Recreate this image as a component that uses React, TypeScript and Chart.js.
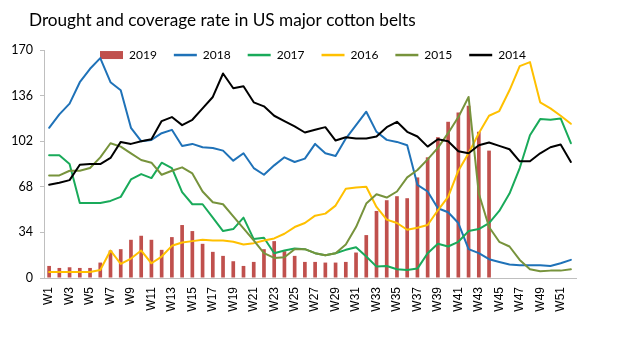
import { useEffect, useRef } from 'react';
import { Chart, registerables } from 'chart.js';

Chart.register(...registerables);

const TITLE = 'Drought and coverage rate in US major cotton belts';

const weeks = [
  'W1', 'W2', 'W3', 'W4', 'W5', 'W6', 'W7', 'W8', 'W9', 'W10',
  'W11', 'W12', 'W13', 'W14', 'W15', 'W16', 'W17', 'W18', 'W19', 'W20',
  'W21', 'W22', 'W23', 'W24', 'W25', 'W26', 'W27', 'W28', 'W29', 'W30',
  'W31', 'W32', 'W33', 'W34', 'W35', 'W36', 'W37', 'W38', 'W39', 'W40',
  'W41', 'W42', 'W43', 'W44', 'W45', 'W46', 'W47', 'W48', 'W49', 'W50',
  'W51', 'W52',
];

const Y_MIN = 0;
const Y_MAX = 170;
const Y_STEP = 34;

const s2019 = [
  9, 7.5, 8, 7.5, 7.5, 11.5, 20.5, 21.5, 28.5, 31.5,
  28.5, 21, 30.5, 39.5, 35, 25.5, 19.5, 16.5, 12.5, 9,
  12, 21.5, 27.5, 20, 16.5, 12, 12, 11.5, 11.5, 12,
  19, 32, 50, 58, 61, 59.5, 75, 90, 105, 116.5,
  123.5, 128.5, 109, 95, null, null, null, null, null, null,
  null, null,
];

const s2018 = [
  112, 122, 130, 146, 156, 164, 146, 140, 112, 102,
  103, 108, 110.5, 98.5, 100, 97.5, 97, 95, 87.5, 93,
  82, 77, 84, 90, 86.5, 89, 100, 93, 91, 104,
  114, 124, 109, 103, 101.5, 99, 69.5, 64.5, 52, 49,
  41, 21.5, 18.5, 14, 12, 10, 9.5, 9.5, 9.5, 9,
  11, 13.5,
];

const s2017 = [
  91.5, 91.5, 85, 56, 56, 56, 57.5, 60.5, 73.5, 77.5,
  74.5, 86, 82, 64, 55, 55, 45, 35, 36.5, 45,
  29, 30, 18.5, 20.5, 22, 21.5, 18.5, 17, 18.5, 21,
  23, 16, 8.5, 9, 6.5, 6, 7, 18.5, 25.5, 23.5,
  27, 35, 36.5, 41, 50, 63, 82, 106.5, 118.5, 118,
  119, 100.5,
];

const s2016 = [
  4.5, 4.5, 4.5, 4.5, 4.5, 6, 20.5, 10.5, 14.5, 20.5,
  11, 16, 24, 26.5, 27.5, 28.5, 28, 28, 27, 25,
  26, 28, 29.5, 33, 38, 41, 46.5, 48, 54, 66.5,
  67.5, 68, 53, 43.5, 41, 36, 37.5, 39.5, 50.5, 60.5,
  80, 93, 108, 121, 124.5, 140, 158, 161, 131, 126.5,
  121, 115,
];

const s2015 = [
  76.5, 76.5, 80, 80, 82, 90, 100.5, 98, 93, 88,
  86, 77, 80, 82.5, 78, 64.5, 56.5, 55, 46, 37,
  28, 18.5, 15, 15.5, 21.5, 21.5, 18.5, 17, 18.5, 25,
  38, 55.5, 62.5, 60, 64.5, 75, 80.5, 88.5, 97, 108,
  120, 135, 63, 38, 27, 23.5, 13.5, 6.5, 5, 5.5,
  5.5, 6.5,
];

const s2014 = [
  69.5, 71, 73, 84.5, 85, 85, 89.5, 101.5, 100, 102,
  103.5, 117, 120, 114, 118, 126.5, 135, 152.5, 141.5, 143,
  131, 128, 121, 117, 113, 108.5, 110.5, 112.5, 102.5, 105,
  104, 104, 105.5, 112.5, 116.5, 109, 105.5, 98, 103.5, 102,
  94.5, 93, 99, 101, 98.5, 96, 87, 87, 93, 97.5,
  99.5, 86.5,
];

const AXIS_GRAY = '#BFBFBF';

function lineDataset(label: string, data: (number | null)[], color: string, order: number) {
  return {
    type: 'line' as const,
    label,
    data,
    borderColor: color,
    backgroundColor: color,
    borderWidth: 2,
    pointRadius: 0,
    pointHoverRadius: 0,
    tension: 0,
    fill: false,
    order,
    borderJoinStyle: 'round' as const,
    borderCapStyle: 'round' as const,
  };
}

export default function App() {
  const ref = useRef<HTMLCanvasElement>(null);

  useEffect(() => {
    document.body.style.margin = '0';
    const canvas = ref.current;
    if (!canvas) return;

    const chart = new Chart(canvas, {
      type: 'bar',
      data: {
        labels: weeks,
        datasets: [
          {
            type: 'bar',
            label: '2019',
            data: s2019,
            backgroundColor: '#C0504D',
            borderWidth: 0,
            barPercentage: 0.36,
            categoryPercentage: 1,
            order: 10,
          } as any,
          lineDataset('2018', s2018, '#1F72B8', 5),
          lineDataset('2017', s2017, '#19AA5A', 4),
          lineDataset('2016', s2016, '#FFC000', 3),
          lineDataset('2015', s2015, '#77933C', 2),
          lineDataset('2014', s2014, '#000000', 1),
        ],
      },
      options: {
        responsive: false,
        animation: false,
        events: [],
        layout: { padding: { left: 0, right: 47, top: 0, bottom: 0 } },
        plugins: {
          title: {
            display: true,
            text: TITLE,
            align: 'start',
            color: '#000',
            font: { family: 'Lato', size: 17.2, weight: 'normal' },
            padding: { top: 10, bottom: 19.4 },
          },
          legend: {
            display: true,
            position: 'top',
            align: 'start',
            maxHeight: 0.001,
            labels: {
              usePointStyle: true,
              pointStyleWidth: 23,
              boxHeight: 8,
              padding: 17,
              color: '#000',
              font: { family: 'Lato', size: 12 },
              sort: (a: any, b: any) => a.datasetIndex - b.datasetIndex,
              generateLabels: (c: any) => {
                const items = (Chart.defaults.plugins.legend.labels as any).generateLabels(c);
                items.forEach((it: any) => {
                  const ds: any = c.data.datasets[it.datasetIndex];
                  if (ds.type === 'line') {
                    it.pointStyle = 'line';
                    it.strokeStyle = ds.borderColor;
                    it.lineWidth = 2.5;
                  } else {
                    it.pointStyle = 'rect';
                    it.fillStyle = ds.backgroundColor;
                    it.strokeStyle = ds.backgroundColor;
                    it.lineWidth = 0;
                  }
                });
                return items;
              },
            },
          },
          tooltip: { enabled: false },
        },
        scales: {
          x: {
            offset: true,
            grid: { display: false, drawTicks: false },
            border: { display: true, color: AXIS_GRAY, width: 1 },
            ticks: {
              autoSkip: false,
              maxRotation: 90,
              minRotation: 90,
              padding: 9,
              color: '#000',
              font: { family: 'Liberation Sans', size: 12 },
              callback: (_v: any, i: number) => (i % 2 === 0 ? weeks[i] : null),
            },
            afterFit: (s: any) => {
              s.height = 61;
              s.paddingLeft = 0;
              s.paddingRight = 0;
            },
          },
          y: {
            min: Y_MIN,
            max: Y_MAX,
            ticks: {
              stepSize: Y_STEP,
              padding: 7,
              color: '#000',
              font: { family: 'Lato', size: 12.5 },
            },
            grid: {
              display: true,
              drawOnChartArea: false,
              drawTicks: true,
              tickLength: 4,
              color: AXIS_GRAY,
            },
            border: { display: true, color: AXIS_GRAY, width: 1 },
            afterFit: (s: any) => {
              s.width = 44;
            },
          },
        },
      } as any,
      plugins: [
        {
          id: 'placeBlocks',
          afterLayout(c: any) {
            if (c.titleBlock) {
              c.titleBlock.left = 29;
            }
            if (c.legend) {
              const top = c.chartArea.top - 18;
              c.legend.top = top;
              c.legend.bottom = top + 45;
              c.legend.height = 45;
              c.legend.left = 83;
              c.legend.right = 623;
              c.legend.width = 623 - 83;
            }
          },
        },
      ],
    });

    return () => chart.destroy();
  }, []);

  return (
    <div style={{ width: 623, height: 339, background: '#fff' }}>
      <canvas ref={ref} width={623} height={339} style={{ display: 'block' }} />
    </div>
  );
}
